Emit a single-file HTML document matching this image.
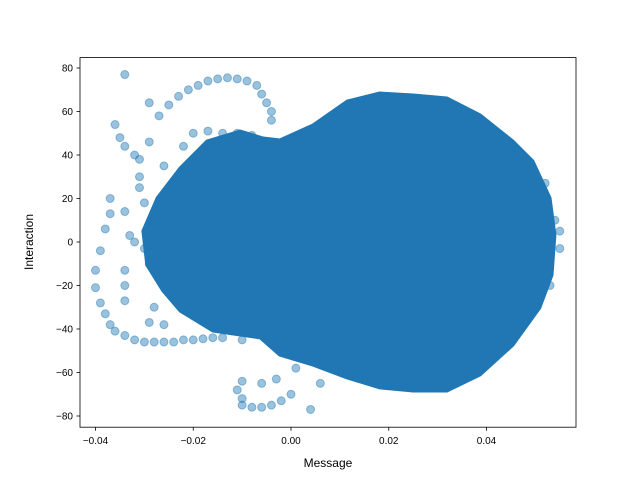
<!DOCTYPE html>
<html><head><meta charset="utf-8"><style>
body{margin:0;background:#fff;font-family:"Liberation Sans",sans-serif}
svg text{font-family:"Liberation Sans",sans-serif;font-size:10px;fill:#000}
</style></head><body>
<svg id="chart" width="640" height="480" xmlns="http://www.w3.org/2000/svg">
<rect width="640" height="480" fill="#fff"/>
<g id="marks"></g>
<rect x="80" y="57.6" width="496" height="369.6" fill="none" stroke="#000" stroke-width="0.8"/>
<g id="axes"></g>
<text x="328" y="467" text-anchor="middle" style="font-size:12px">Message</text>
<text transform="translate(33,242) rotate(-90)" text-anchor="middle" style="font-size:12px">Interaction</text>
</svg>
<script>
const xTicks=[-0.04,-0.02,0.00,0.02,0.04];
const xTickLabels=["−0.04","−0.02","0.00","0.02","0.04"];
const yTicks=[-80,-60,-40,-20,0,20,40,60,80];
const yTickLabels=["−80","−60","−40","−20","0","20","40","60","80"];
// dense core boundary (data coords)
const coreX=[-0.0023,0.0045,0.0115,0.0182,0.025,0.0319,0.0387,0.0454,0.0495,0.053,0.054,0.0534,0.0509,0.0454,0.0387,0.0319,0.025,0.0182,0.0115,0.0045,-0.0023,-0.0063,-0.016,-0.0227,-0.0262,-0.0295,-0.0303,-0.0274,-0.0227,-0.0172,-0.0104,-0.0057];
const coreY=[46.9,53.8,64.8,68.5,67.6,66.2,58.4,46.4,37.2,20.2,3.2,-15.2,-30.3,-47.4,-61.1,-68.5,-68.5,-67.1,-62.5,-56.6,-52,-44.1,-40.9,-31.7,-22.5,-10.6,5.1,20.2,34,46.4,51,47.8];
// visible individual points
const ptX=[-0.034,-0.029,-0.027,-0.025,-0.023,-0.021,-0.019,-0.017,-0.015,-0.013,-0.011,-0.009,-0.007,-0.006,-0.005,-0.004,-0.004,
-0.036,-0.035,-0.034,-0.032,-0.031,-0.029,-0.037,-0.037,-0.038,-0.039,-0.040,-0.040,-0.039,-0.038,-0.037,-0.036,-0.034,-0.032,-0.030,-0.028,-0.026,-0.024,-0.022,-0.020,-0.018,-0.016,-0.034,-0.034,-0.034,-0.033,-0.034,-0.031,-0.031,-0.030,-0.028,-0.029,-0.026,
-0.010,-0.010,-0.008,-0.006,-0.004,-0.002,0.000,0.004,-0.011,-0.010,-0.006,-0.003,0.001,0.006,
-0.020,-0.017,-0.014,-0.011,-0.008,-0.022,-0.026,-0.030,-0.032,-0.029,-0.014,-0.010,0.055,0.055,0.054,0.053,0.052];
const ptY=[77,64,58,63,67,70,72,74,75,75.5,75,74,72,68,64,60,56,
54,48,44,40,38,46,20,13,6,-4,-13,-21,-28,-33,-38,-41,-43,-45,-46,-46,-46,-46,-45,-45,-44.5,-44,-27,-20,-13,3,14,25,30,-3,-30,-37,-38,
-72,-75,-76,-76,-75,-73,-70,-77,-68,-64,-65,-63,-58,-65,
50,51,50,50,49,44,35,18,0,-10,-44,-45,5,-3,10,-20,27];
function sx(v){return 291+v*4887.5;}
function sy(v){return 242-v*2.175;}
const NS="http://www.w3.org/2000/svg";
const marks=document.getElementById('marks'),axes=document.getElementById('axes');
ptX.forEach((x,i)=>{const c=document.createElementNS(NS,'circle');
c.setAttribute('cx',sx(x));c.setAttribute('cy',sy(ptY[i]));c.setAttribute('r',4);
c.setAttribute('fill','#1f77b4');c.setAttribute('fill-opacity',0.45);c.setAttribute('stroke','#1f77b4');c.setAttribute('stroke-opacity',0.45);


marks.appendChild(c);});
const p=document.createElementNS(NS,'polygon');
p.setAttribute('points',coreX.map((x,i)=>sx(x)+','+sy(coreY[i])).join(' '));
p.setAttribute('fill','#2077b4');p.setAttribute('stroke','#2077b4');p.setAttribute('stroke-width','3');p.setAttribute('stroke-linejoin','round');


marks.appendChild(p);
xTicks.forEach((t,i)=>{const x=sx(t);
const l=document.createElementNS(NS,'line');l.setAttribute('x1',x);l.setAttribute('x2',x);l.setAttribute('y1',427.2);l.setAttribute('y2',430.7);l.setAttribute('stroke','#000');l.setAttribute('stroke-width',0.8);


axes.appendChild(l);
const tx=document.createElementNS(NS,'text');tx.setAttribute('x',x);tx.setAttribute('y',444);tx.setAttribute('text-anchor','middle');tx.textContent=xTickLabels[i];


axes.appendChild(tx);});
yTicks.forEach((t,i)=>{const y=sy(t);
const l=document.createElementNS(NS,'line');l.setAttribute('x1',76.5);l.setAttribute('x2',80);l.setAttribute('y1',y);l.setAttribute('y2',y);l.setAttribute('stroke','#000');l.setAttribute('stroke-width',0.8);


axes.appendChild(l);
const tx=document.createElementNS(NS,'text');tx.setAttribute('x',73);tx.setAttribute('y',y+3.5);tx.setAttribute('text-anchor','end');tx.textContent=yTickLabels[i];


axes.appendChild(tx);});
</script>
</body></html>
